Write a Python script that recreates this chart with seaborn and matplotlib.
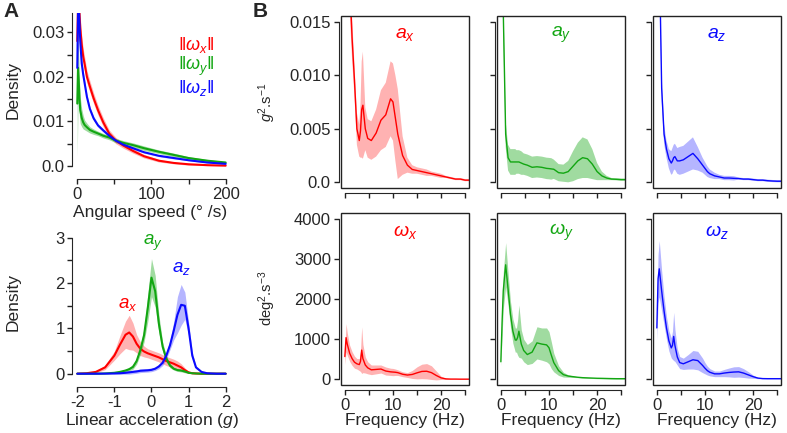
import numpy as np
import pandas as pd
import seaborn as sns
import matplotlib.pyplot as plt
from matplotlib.patches import Rectangle

sns.set_style("ticks")
plt.rcParams['font.family'] = ['Liberation Sans', 'DejaVu Sans']
plt.rcParams['mathtext.fontset'] = 'custom'
plt.rcParams['mathtext.rm'] = 'Liberation Sans'
plt.rcParams['mathtext.it'] = 'Liberation Sans:italic'
plt.rcParams['mathtext.bf'] = 'Liberation Sans:bold'

RED, GREEN, BLUE = '#ff0000', '#12a612', '#0a0aff'

# ---- panel A, top: angular speed densities (mean and band half-width)
speed = [0, 1, 2, 3, 4, 6, 8, 10, 13, 17, 22, 28, 35, 43, 52, 62, 75, 90, 110, 130, 150, 175, 200]
wx_dens = [0.028, 0.036, 0.037, 0.034, 0.031, 0.0272, 0.0245, 0.0228, 0.020, 0.0178, 0.0152, 0.0125,
           0.0098, 0.0073, 0.0057, 0.0046, 0.0034, 0.0022, 0.0012, 0.0007, 0.0004, 0.0002, 0.0001]
wy_dens = [0.014, 0.022, 0.019, 0.015, 0.0125, 0.0108, 0.0098, 0.0092, 0.0087, 0.0081, 0.0077, 0.0073,
           0.0068, 0.0064, 0.0057, 0.0052, 0.0047, 0.0040, 0.0032, 0.0025, 0.0018, 0.0012, 0.0008]
wz_dens = [0.022, 0.034, 0.036, 0.032, 0.028, 0.023, 0.0205, 0.0185, 0.0155, 0.0128, 0.0107, 0.0091,
           0.0080, 0.0068, 0.0057, 0.0048, 0.0040, 0.0031, 0.0023, 0.0018, 0.0013, 0.0008, 0.0005]
wx_band = [0.002, 0.003, 0.003, 0.003, 0.0025, 0.002, 0.0018, 0.0016, 0.0014, 0.0013, 0.0012, 0.0011,
           0.001, 0.0008, 0.0007, 0.0006, 0.0005, 0.0004, 0.0003, 0.0002, 0.0002, 0.0001, 0.0001]
wy_band = [0.012, 0.008, 0.005, 0.004, 0.003, 0.002, 0.0015, 0.0011, 0.0009, 0.0007, 0.0006, 0.0005,
           0.0005, 0.0005, 0.0005, 0.0005, 0.0005, 0.0005, 0.0004, 0.0004, 0.0003, 0.0003, 0.0002]
wz_band = [0.012, 0.006, 0.004, 0.003, 0.002, 0.0013, 0.0009, 0.0007, 0.0006, 0.0005, 0.0005, 0.0004,
           0.0004, 0.0003, 0.0003, 0.0003, 0.0002, 0.0002, 0.0002, 0.0002, 0.0001, 0.0001, 0.0001]

# ---- panel A, bottom: linear acceleration densities
accel = [-2, -1.75, -1.5, -1.25, -1.0, -0.85, -0.7, -0.6, -0.5, -0.4, -0.3, -0.2, -0.1, 0.0, 0.1,
         0.2, 0.3, 0.4, 0.5, 0.6, 0.7, 0.8, 0.9, 1.0, 1.1, 1.2, 1.35, 1.5, 1.75, 2.0]
ax_dens = [0, 0.01, 0.04, 0.14, 0.40, 0.64, 0.86, 0.91, 0.82, 0.66, 0.55, 0.49, 0.45, 0.42, 0.39,
           0.36, 0.32, 0.28, 0.25, 0.22, 0.18, 0.14, 0.08, 0.03, 0.01, 0.005, 0, 0, 0, 0]
ay_dens = [0, 0, 0, 0.005, 0.02, 0.04, 0.07, 0.10, 0.15, 0.28, 0.52, 0.85, 1.45, 2.12, 1.82,
           1.10, 0.60, 0.33, 0.18, 0.11, 0.08, 0.07, 0.05, 0.02, 0.01, 0.005, 0, 0, 0, 0]
az_dens = [0, 0, 0, 0.002, 0.005, 0.01, 0.02, 0.03, 0.04, 0.05, 0.065, 0.07, 0.075, 0.085, 0.11,
           0.16, 0.24, 0.40, 0.63, 0.95, 1.30, 1.52, 1.50, 1.00, 0.40, 0.14, 0.04, 0.01, 0, 0]
ax_band = [0, 0.01, 0.02, 0.05, 0.10, 0.20, 0.30, 0.38, 0.30, 0.20, 0.15, 0.12, 0.10, 0.10, 0.10,
           0.10, 0.10, 0.10, 0.10, 0.10, 0.10, 0.08, 0.05, 0.02, 0.01, 0, 0, 0, 0, 0]
ay_band = [0, 0, 0, 0, 0.01, 0.02, 0.03, 0.04, 0.05, 0.07, 0.10, 0.15, 0.30, 0.42, 0.35,
           0.20, 0.10, 0.07, 0.05, 0.03, 0.03, 0.03, 0.03, 0.01, 0, 0, 0, 0, 0, 0]
az_band = [0, 0, 0, 0, 0.01, 0.02, 0.03, 0.04, 0.04, 0.04, 0.04, 0.04, 0.04, 0.04, 0.04,
           0.05, 0.06, 0.08, 0.10, 0.20, 0.40, 0.45, 0.30, 0.15, 0.08, 0.03, 0.01, 0, 0, 0]

# ---- panel B: power spectra
freq = [0, 0.25, 0.5, 1, 1.5, 2, 2.5, 3, 3.25, 3.5, 3.75, 4.25, 4.75, 5.5, 6.5, 7.5, 8.5, 9.5,
        10, 10.5, 11, 12, 13, 14, 15, 16, 17, 18, 19, 20, 21, 22, 23, 24, 25, 25.8]
psd_ax = [0.06, 0.04, 0.03, 0.019, 0.0135, 0.0095, 0.0050, 0.0039, 0.0048, 0.0068, 0.0072, 0.0050,
          0.0041, 0.0039, 0.0046, 0.0058, 0.0063, 0.0078, 0.0075, 0.0060, 0.0045, 0.0025, 0.0016,
          0.0012, 0.0011, 0.0010, 0.0009, 0.0008, 0.0007, 0.0006, 0.0005, 0.0004, 0.0003, 0.0003,
          0.0002, 0.0002]
psd_ax_band = [0.01, 0.007, 0.005, 0.003, 0.002, 0.0015, 0.0015, 0.0015, 0.0025, 0.0045, 0.005, 0.002,
               0.0018, 0.0018, 0.0022, 0.0028, 0.003, 0.0035, 0.0036, 0.004, 0.0042, 0.0018, 0.0007,
               0.0004, 0.0003, 0.0003, 0.0003, 0.0002, 0.0002, 0.0002, 0.0001, 0.0001, 0.0001, 0.0001,
               0.0001, 0.0001]
psd_ay = [0.05, 0.03, 0.016, 0.0045, 0.0023, 0.0019, 0.0019, 0.0019, 0.0019, 0.0019, 0.0019, 0.0018,
          0.0017, 0.0016, 0.0014, 0.00145, 0.0014, 0.0013, 0.00128, 0.00125, 0.00122, 0.0009, 0.00085,
          0.0010, 0.0015, 0.0020, 0.0023, 0.0022, 0.0017, 0.0010, 0.0006, 0.0004, 0.0003, 0.00028,
          0.00025, 0.00025]
psd_ay_band = [0.005, 0.003, 0.002, 0.0012, 0.0012, 0.0012, 0.0012, 0.0012, 0.0011, 0.0011, 0.0011,
               0.0011, 0.001, 0.001, 0.001, 0.001, 0.001, 0.001, 0.001, 0.001, 0.0009, 0.0008, 0.0008,
               0.001, 0.0014, 0.0017, 0.0019, 0.0018, 0.0014, 0.0008, 0.0004, 0.0002, 0.0001, 0.0001,
               0.0001, 0.0001]
psd_az = [0.05, 0.035, 0.022, 0.0088, 0.0045, 0.0031, 0.0022, 0.0018, 0.0020, 0.0023, 0.0024, 0.0020,
          0.0020, 0.0021, 0.0024, 0.0027, 0.0022, 0.0016, 0.0013, 0.0010, 0.0008, 0.0006, 0.0005,
          0.0004, 0.0004, 0.00037, 0.00035, 0.0003, 0.0003, 0.00025, 0.0002, 0.0002, 0.00015, 0.00012,
          0.0001, 0.0001]
psd_az_band = [0.004, 0.003, 0.002, 0.0012, 0.0009, 0.0008, 0.0009, 0.0011, 0.0012, 0.0012, 0.0012,
               0.0012, 0.0013, 0.0013, 0.0014, 0.0015, 0.0011, 0.0007, 0.0006, 0.0005, 0.0004, 0.0003,
               0.0002, 0.0002, 0.0002, 0.0002, 0.0001, 0.0001, 0.0001, 0.0001, 0.0001, 0.0001, 0.0001,
               0.0001, 0.0001, 0.0001]
psd_wx = [570, 1040, 880, 650, 520, 430, 390, 370, 450, 730, 520, 360, 290, 240, 250, 260, 210, 190,
          185, 180, 170, 130, 110, 125, 165, 200, 205, 170, 100, 40, 15, 10, 10, 8, 8, 8]
psd_wx_band = [200, 350, 280, 200, 170, 150, 130, 150, 250, 580, 350, 200, 150, 120, 110, 100, 100, 90,
               90, 80, 70, 60, 60, 100, 150, 180, 190, 170, 110, 40, 15, 5, 5, 5, 5, 5]
psd_wy = [440, 1400, 2200, 2850, 2250, 1620, 1200, 980, 980, 1050, 1200, 880, 720, 620, 680, 910, 880,
          860, 790, 600, 420, 220, 120, 85, 70, 55, 45, 40, 35, 30, 28, 25, 22, 20, 20, 20]
psd_wy_band = [100, 350, 450, 550, 400, 320, 300, 300, 300, 450, 650, 350, 280, 250, 280, 400, 400,
               420, 400, 330, 230, 120, 60, 30, 20, 10, 10, 10, 10, 10, 10, 10, 10, 10, 10, 10]
psd_wz = [1280, 2500, 2750, 2200, 1700, 1280, 960, 785, 850, 1070, 850, 560, 420, 390, 440, 490, 470,
          350, 280, 220, 180, 140, 140, 160, 175, 185, 190, 160, 115, 70, 35, 22, 20, 20, 20, 20]
psd_wz_band = [300, 600, 700, 500, 350, 280, 250, 250, 350, 600, 400, 200, 150, 140, 180, 230, 230,
               180, 140, 110, 90, 70, 70, 90, 110, 130, 130, 110, 80, 40, 15, 5, 5, 5, 5, 5]

W, H = 787, 433
fig = plt.figure(figsize=(W / 100, H / 100), dpi=100)


def place(x0, x1, y0, y1):
    # pixel box, y measured from the top
    return fig.add_axes([x0 / W, 1 - y1 / H, (x1 - x0) / W, (y1 - y0) / H])


def ftext(x, y, s, **kw):
    # figure text at pixel position, y measured from the top
    return fig.text(x / W, 1 - y / H, s, ha='center', va='center', **kw)


def curve(ax, x, y, band, color, lw, alpha):
    lo = np.array(y) - np.array(band)
    hi = np.array(y) + np.array(band)
    ax.fill_between(x, lo, hi, color=color, alpha=alpha, lw=0)
    sns.lineplot(x=x, y=y, color=color, lw=lw, ax=ax, sort=False)


TICK = dict(direction='out', length=3.5, width=1, labelsize=12, color='#222222', pad=2)

# ---------------- Panel A top
a1 = place(72.3, 227.9, 13, 179)
curve(a1, speed, wx_dens, wx_band, RED, 1.5, 0.3)
curve(a1, speed, wy_dens, wy_band, GREEN, 1.5, 0.4)
curve(a1, speed, wz_dens, wz_band, BLUE, 1.5, 0.3)
a1.set_xlim(-6.7, 203)
a1.set_ylim(-0.0029, 0.0343)
sns.despine(ax=a1)
a1.spines['left'].set_bounds(0, 0.0343)
a1.spines['bottom'].set_bounds(0, 200)
a1.set_yticks([0, 0.005, 0.01, 0.015, 0.02, 0.025, 0.03])
a1.set_yticklabels(['0.0', '', '0.01', '', '0.02', '', '0.03'])
a1.set_xticks([0, 50, 100, 150, 200])
a1.set_xticklabels(['0', '', '100', '', '200'])
a1.tick_params(**TICK)
a1.set_xlabel('')
a1.set_ylabel('')
for i, (lab, c) in enumerate([(r'$\Vert\omega_x\Vert$', RED), (r'$\Vert\omega_y\Vert$', GREEN),
                              (r'$\Vert\omega_z\Vert$', BLUE)]):
    ftext(196, 45 + 21.5 * i, lab, color=c, fontsize=13)

# ---------------- Panel A bottom
a2 = place(72.3, 227.5, 235.5, 387.3)
curve(a2, accel, ax_dens, ax_band, RED, 1.5, 0.3)
curve(a2, accel, ay_dens, ay_band, GREEN, 1.5, 0.4)
curve(a2, accel, az_dens, az_band, BLUE, 1.5, 0.3)
a2.set_xlim(-2.135, 2.05)
a2.set_ylim(-0.3, 3.05)
sns.despine(ax=a2)
a2.spines['left'].set_bounds(0, 3)
a2.spines['bottom'].set_bounds(-2, 2)
a2.set_yticks([0, 0.5, 1, 1.5, 2, 2.5, 3])
a2.set_yticklabels(['0', '', '1', '', '2', '', '3'])
a2.set_xticks([-2, -1, 0, 1, 2])
a2.set_xticklabels(['-2', '-1', '0', '1', '2'])
a2.tick_params(**TICK)
a2.set_xlabel('')
a2.set_ylabel('')
a2.text(-0.63, 1.52, r'$a_x$', color=RED, fontsize=13.5, ha='center', va='center')
a2.text(0.04, 2.88, r'$a_y$', color=GREEN, fontsize=13.5, ha='center', va='center')
a2.text(0.80, 2.33, r'$a_z$', color=BLUE, fontsize=13.5, ha='center', va='center')

ftext(13.5, 90, 'Density', rotation=90, fontsize=12.5)
ftext(13.5, 302, 'Density', rotation=90, fontsize=12.5)
ftext(150, 212, 'Angular speed (° /s)', fontsize=12.5)
ftext(152, 420, r'Linear acceleration ($g$)', fontsize=12.5)

# ---------------- Panel B
lefts = [341, 497, 653]
top_series = [(psd_ax, psd_ax_band, RED, r'$a_x$', 0.3), (psd_ay, psd_ay_band, GREEN, r'$a_y$', 0.4),
              (psd_az, psd_az_band, BLUE, r'$a_z$', 0.3)]
bot_series = [(psd_wx, psd_wx_band, RED, r'$\omega_x$', 0.3), (psd_wy, psd_wy_band, GREEN, r'$\omega_y$', 0.4),
              (psd_wz, psd_wz_band, BLUE, r'$\omega_z$', 0.3)]

for row, series in enumerate([top_series, bot_series]):
    for col, (vals, band, c, lab, alpha) in enumerate(series):
        if row == 0:
            ax = place(lefts[col], lefts[col] + 128, 16, 188.3)
        else:
            ax = place(lefts[col], lefts[col] + 128, 213, 385)
        curve(ax, freq, vals, band, c, 1.0, alpha)
        ax.set_xlim(-0.8, 25.8)
        if row == 0:
            ax.set_ylim(-0.00056, 0.01553)
            yt = [0, 0.005, 0.010, 0.015]
            ylabs = ['0.0', '0.005', '0.010', '0.015']
        else:
            ax.set_ylim(-137, 4137)
            yt = [0, 1000, 2000, 3000, 4000]
            ylabs = ['0', '1000', '2000', '3000', '4000']
        ax.add_patch(Rectangle((0, 0), 1, 1, transform=ax.transAxes, fill=False, lw=1.0,
                               ec='#222222', clip_on=False, zorder=5))
        sns.despine(ax=ax)
        ax.spines['left'].set_position(('outward', 1.8))
        ax.spines['bottom'].set_position(('outward', 3.6))
        ax.spines['left'].set_bounds(yt[0], yt[-1])
        ax.spines['bottom'].set_bounds(0, 25)
        ax.set_yticks(yt)
        ax.set_yticklabels(ylabs if col == 0 else [''] * len(yt))
        ax.set_xticks([0, 5, 10, 15, 20, 25])
        if row == 1:
            ax.set_xticklabels(['0', '', '10', '', '20', ''])
            ftext(lefts[col] + 64, 421, 'Frequency (Hz)', fontsize=12.5)
        else:
            ax.set_xticklabels([''] * 6)
        ax.tick_params(**TICK)
        ax.set_xlabel('')
        ax.set_ylabel('')
        ax.text(0.5, 0.89, lab, transform=ax.transAxes, color=c, fontsize=14, ha='center', va='center')

ftext(267, 102, r'$g^2$.s$^{-1}$', rotation=90, fontsize=10.5)
ftext(267, 298, r'deg$^2$.s$^{-3}$', rotation=90, fontsize=10.5)

fig.text(3 / W, 1 - 2 / H, 'A', fontsize=15, fontweight='bold', ha='left', va='top')
fig.text(253 / W, 1 - 2 / H, 'B', fontsize=15, fontweight='bold', ha='left', va='top')

fig.savefig('out.png', dpi=100, facecolor='white')
